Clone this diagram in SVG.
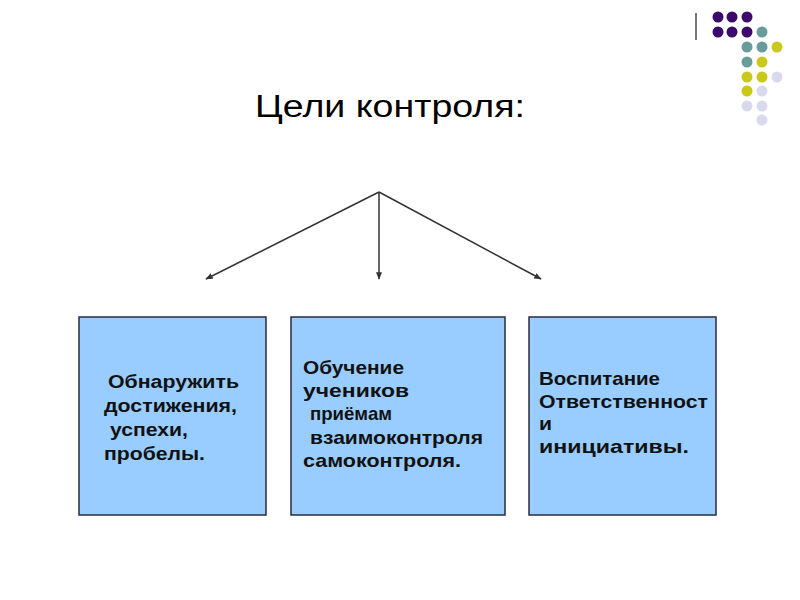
<svg xmlns="http://www.w3.org/2000/svg" width="800" height="600" viewBox="0 0 800 600">
<style>
.box{fill:#99ccff;stroke:#2b2b3b;stroke-width:1.5}
.t{font-family:"Liberation Sans",Arial,sans-serif;font-weight:bold;font-size:19px;fill:#111}
.title{font-family:"Liberation Sans",Arial,sans-serif;font-size:31px;fill:#000}
.c{stroke:#333;stroke-width:1.5;fill:none;marker-end:url(#ah)}
.p{fill:#3b0a6a}.g{fill:#6a9c9c}.y{fill:#c9c91c}.l{fill:#d9d9ee}
</style>
<defs>
<marker id="ah" viewBox="0 0 10 10" refX="9" refY="5" markerWidth="5" markerHeight="5" orient="auto" markerUnits="strokeWidth">
<path d="M0,1 L10,5 L0,9 z" fill="#333"/>
</marker>
</defs>
<rect width="800" height="600" fill="#fff"/>
<g id="decor">
<line x1="696" y1="13" x2="696" y2="40" stroke="#777" stroke-width="2"/>
<circle class="p" cx="718" cy="17" r="5.5"/><circle class="p" cx="732" cy="17" r="5.5"/><circle class="p" cx="747" cy="17" r="5.5"/>
<circle class="p" cx="718" cy="32" r="5.5"/><circle class="p" cx="732" cy="32" r="5.5"/><circle class="p" cx="747" cy="32" r="5.5"/><circle class="g" cx="762" cy="32" r="5.5"/>
<circle class="g" cx="747" cy="47" r="5.5"/><circle class="g" cx="762" cy="47" r="5.5"/><circle class="y" cx="777" cy="47" r="5.5"/>
<circle class="g" cx="747" cy="62" r="5.5"/><circle class="y" cx="762" cy="62" r="5.5"/>
<circle class="y" cx="747" cy="77" r="5.5"/><circle class="y" cx="762" cy="77" r="5.5"/><circle class="l" cx="777" cy="77" r="5.5"/>
<circle class="y" cx="747" cy="91" r="5.5"/><circle class="l" cx="762" cy="91" r="5.5"/>
<circle class="l" cx="747" cy="106" r="5.5"/><circle class="l" cx="762" cy="106" r="5.5"/>
<circle class="l" cx="762" cy="120" r="5.5"/>
</g>
<g id="title"><text class="title" x="255" y="117" textLength="270" lengthAdjust="spacingAndGlyphs">Цели контроля:</text></g>
<g id="connectors">
<line class="c" x1="379" y1="192" x2="206" y2="279"/>
<line class="c" x1="379" y1="192" x2="379" y2="279"/>
<line class="c" x1="379" y1="192" x2="541" y2="279"/>
</g>
<g id="node1">
<rect class="box" x="79" y="317" width="187" height="198"/>
<text class="t" x="108" y="388" textLength="131" lengthAdjust="spacingAndGlyphs">Обнаружить</text>
<text class="t" x="104" y="412" textLength="133" lengthAdjust="spacingAndGlyphs">достижения,</text>
<text class="t" x="110" y="436" textLength="78" lengthAdjust="spacingAndGlyphs">успехи,</text>
<text class="t" x="104" y="460" textLength="101" lengthAdjust="spacingAndGlyphs">пробелы.</text>
</g>
<g id="node2">
<rect class="box" x="291" y="317" width="214" height="198"/>
<text class="t" x="303" y="374" textLength="101" lengthAdjust="spacingAndGlyphs">Обучение</text>
<text class="t" x="303" y="397" textLength="106" lengthAdjust="spacingAndGlyphs">учеников</text>
<text class="t" x="310" y="420" textLength="82" lengthAdjust="spacingAndGlyphs">приёмам</text>
<text class="t" x="310" y="444" textLength="173" lengthAdjust="spacingAndGlyphs">взаимоконтроля</text>
<text class="t" x="303" y="467" textLength="158" lengthAdjust="spacingAndGlyphs">самоконтроля.</text>
</g>
<g id="node3">
<rect class="box" x="529" y="317" width="187" height="198"/>
<text class="t" x="539" y="385" textLength="121" lengthAdjust="spacingAndGlyphs">Воспитание</text>
<text class="t" x="539" y="408" textLength="169" lengthAdjust="spacingAndGlyphs">Ответственност</text>
<text class="t" x="539" y="430" textLength="13" lengthAdjust="spacingAndGlyphs">и</text>
<text class="t" x="539" y="453" textLength="150" lengthAdjust="spacingAndGlyphs">инициативы.</text>
</g>
</svg>
